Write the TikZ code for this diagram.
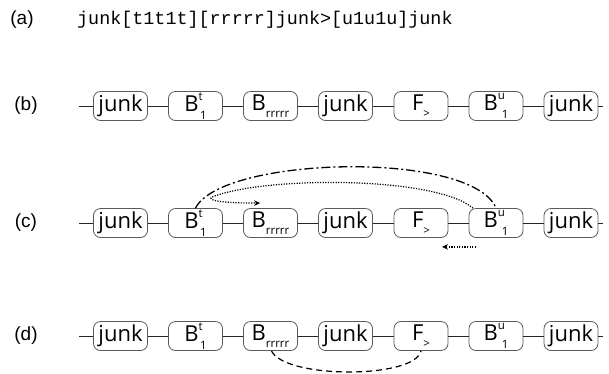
\documentclass[tikz,border=0pt]{standalone}
\usepackage{fontspec}
\setmainfont{Open Sans}
\newfontfamily\labfont{Liberation Sans}
\newfontfamily\codefont{Liberation Mono}
\usetikzlibrary{arrows.meta,calc}
\newcommand\smallfs{\fontsize{11.5}{11.5}\selectfont}
\newcommand\nJunk{junk}
\newcommand\nBt{B\raisebox{0.5em}{\smallfs t}\kern-2.5pt\raisebox{-0.35em}{\smallfs 1}}
\newcommand\nBu{B\raisebox{0.5em}{\smallfs u}\kern-3pt\raisebox{-0.35em}{\smallfs 1}}
\newcommand\nBr{B\raisebox{-0.3em}{\smallfs rrrrr}}
\newcommand\nF{F\raisebox{-0.3em}{\smallfs >}}
\begin{document}
\begin{tikzpicture}[x=1pt,y=-1pt,
  box/.style={draw=black!65, rounded corners=7pt, minimum width=54pt, minimum height=29pt,
    inner sep=0pt, fill=white, line width=0.8pt, font=\fontsize{22}{22}\selectfont},
  conn/.style={draw=black!85, line width=0.9pt},
  rowlab/.style={font=\labfont\fontsize{19}{19}\selectfont, anchor=center},
  dashdotline/.style={line width=1.3pt, dash pattern=on 9pt off 3pt on 2pt off 3pt},
  dotline/.style={line width=1.2pt, dash pattern=on 1.2pt off 1.4pt},
  dashline/.style={line width=1.2pt, dash pattern=on 6pt off 4pt},
  tip/.style={-{Stealth[length=6pt,width=5.5pt]}}]
\useasboundingbox (0,0) rectangle (609,373);
% row (a)
\node[rowlab] (la) at (22,20) {(a)};
\node[font=\codefont\fontsize{18.4}{18.4}\selectfont, anchor=west, inner sep=0pt] (code) at (77,20) {junk[t1t1t][rrrrr]junk>[u1u1u]junk};
% rows (b), (c), (d)
\foreach \r/\y/\lab in {b/106/(b),c/223/(c),d/336/(d)}{
  \node[rowlab] (l\r) at (26,\y) {\lab};
  \coordinate (\r L) at (79,\y);
  \coordinate (\r R) at (603,\y);
  \node[box] (\r1) at (120.5,\y) {\nJunk};
  \node[box] (\r2) at (195.5,\y) {\nBt};
  \node[box] (\r3) at (270.5,\y) {\nBr};
  \node[box] (\r4) at (345.5,\y) {\nJunk};
  \node[box] (\r5) at (421,\y) {\nF};
  \node[box] (\r6) at (496,\y) {\nBu};
  \node[box] (\r7) at (571,\y) {\nJunk};
  \draw[conn] (\r L) -- (\r1) -- (\r2) -- (\r3) -- (\r4) -- (\r5) -- (\r6) -- (\r7) -- (\r R);
}
% row (c) arrows
\draw[dashdotline] (c2.north) .. controls (222,156) and (472,150) .. (c6.north);
\coordinate (cs) at ($(c6.north)+(-23,0)$);
\coordinate (ct) at ($(c3.north west)+(17,-5)$);
\draw[dotline, tip] (cs) .. controls (435,176) and (265,176) .. (212,197)
   .. controls (207,200) and (218,203) .. (ct);
\coordinate (ua) at ($(c6.south)+(-20,9)$);
\coordinate (ub) at ($(c5.south)+(21,9)$);
\draw[dotline, tip] (ua) -- (ub);
% row (d) arrow
\draw[dashline] ($(d3.south)+(1,0)$) .. controls (285,379) and (415,379) .. (d5.south);
\end{tikzpicture}
\end{document}
